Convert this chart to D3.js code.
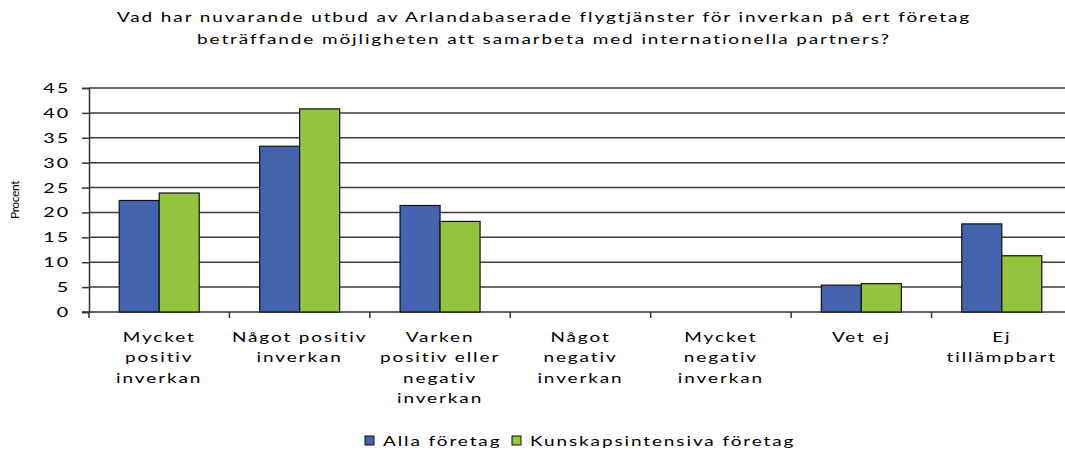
<!DOCTYPE html>
<html>
<head>
<meta charset="utf-8">
<script src="https://cdn.jsdelivr.net/npm/d3@7"></script>
<style>
body { margin: 0; background: #fff; }
svg text { font-family: Lato, "Open Sans", sans-serif; fill: #000; }
</style>
</head>
<body>
<script>
var categories = [
  ["Mycket", "positiv", "inverkan"],
  ["Något positiv", "inverkan"],
  ["Varken", "positiv eller", "negativ", "inverkan"],
  ["Något", "negativ", "inverkan"],
  ["Mycket", "negativ", "inverkan"],
  ["Vet ej"],
  ["Ej", "tillämpbart"]
];
var seriesNames = ["Alla företag", "Kunskapsintensiva företag"];
var alla = [22.4, 33.3, 21.4, 0, 0, 5.4, 17.7];
var kunskap = [23.9, 40.8, 18.2, 0, 0, 5.7, 11.3];
var yTicks = [0, 5, 10, 15, 20, 25, 30, 35, 40, 45];
var titleLines = [
  "Vad har nuvarande utbud av Arlandabaserade flygtjänster för inverkan på ert företag",
  "beträffande möjligheten att samarbeta med internationella partners?"
];
var colors = ["#4363ae", "#94c33d"];

var W = 1065, H = 452;
var mLeft = 89, mRight = 1072, mTop = 88, mBottom = 312;
var stretch = 1.46;   // the reference text is drawn wide
var fs = 13, ls = 1.3;

var svg = d3.select("body").append("svg").attr("width", W).attr("height", H);

var x = d3.scaleBand().domain(d3.range(categories.length)).range([mLeft, mRight]);
var xs = d3.scaleBand().domain([0, 1]).range([0, 80]);
var y = d3.scaleLinear().domain([0, 45]).range([mBottom, mTop]);

function wide(x0, y0) { return "translate(" + x0 + "," + y0 + ") scale(" + stretch + ",1)"; }

// title
svg.append("g").selectAll("text")
    .data(titleLines)
    .enter().append("text")
    .attr("transform", function(d, i) { return wide(544, 22 + i * 22); })
    .attr("text-anchor", "middle")
    .attr("font-size", fs)
    .attr("letter-spacing", ls)
    .text(function(d) { return d; });

// gridlines
svg.append("g").selectAll("line")
    .data(yTicks.slice(1))
    .enter().append("line")
    .attr("x1", mLeft).attr("x2", mRight)
    .attr("y1", function(d) { return y(d); })
    .attr("y2", function(d) { return y(d); })
    .attr("stroke", "#3a3a3a")
    .attr("stroke-width", 1.5);

// y axis
var yAxis = svg.append("g")
    .attr("transform", "translate(" + mLeft + ",0)")
    .call(d3.axisLeft(y).tickValues(yTicks).tickSize(7).tickFormat(""));
yAxis.select(".domain").attr("stroke", "#333").attr("stroke-width", 1.5);
yAxis.selectAll(".tick line").attr("stroke", "#333").attr("stroke-width", 1.5);
svg.append("g").selectAll("text")
    .data(yTicks)
    .enter().append("text")
    .attr("transform", function(d) { return wide(mLeft - 19, y(d) + 5); })
    .attr("text-anchor", "end")
    .attr("font-size", fs + 0.5)
    .attr("letter-spacing", ls)
    .text(function(d) { return d; });

// x axis
var xAxis = svg.append("g")
    .attr("transform", "translate(0," + mBottom + ")");
xAxis.append("line")
    .attr("x1", mLeft - 7).attr("x2", mRight)
    .attr("y1", 0).attr("y2", 0)
    .attr("stroke", "#333").attr("stroke-width", 1.5);
xAxis.selectAll("line.tk")
    .data(d3.range(categories.length))
    .enter().append("line")
    .attr("class", "tk")
    .attr("x1", function(d) { return x(d); })
    .attr("x2", function(d) { return x(d); })
    .attr("y1", 0).attr("y2", 6)
    .attr("stroke", "#333").attr("stroke-width", 1.5);

// category labels
var catLabels = svg.append("g").selectAll("text")
    .data(categories)
    .enter().append("text")
    .attr("transform", function(d, i) { return wide(x(i) + x.bandwidth() / 2, 342); })
    .attr("text-anchor", "middle")
    .attr("font-size", fs)
    .attr("letter-spacing", ls);
catLabels.selectAll("tspan")
    .data(function(d) { return d; })
    .enter().append("tspan")
    .attr("x", 0)
    .attr("y", function(d, j) { return j * 20.3; })
    .text(function(d) { return d; });

// bars (zero values are not drawn)
var series = [alla, kunskap];
series.forEach(function(vals, s) {
  var pts = vals.map(function(v, i) { return {v: v, i: i}; })
      .filter(function(d) { return d.v > 0; });
  svg.append("g").selectAll("rect")
      .data(pts)
      .enter().append("rect")
      .attr("x", function(d) { return x(d.i) + (x.bandwidth() - 80) / 2 + xs(s); })
      .attr("y", function(d) { return y(d.v); })
      .attr("width", xs.bandwidth())
      .attr("height", function(d) { return mBottom - y(d.v); })
      .attr("fill", colors[s])
      .attr("stroke", "#111")
      .attr("stroke-width", 1.2);
});

// y label
svg.append("text")
    .attr("transform", "translate(19,200) rotate(-90)")
    .attr("text-anchor", "middle")
    .attr("font-size", 12)
    .attr("letter-spacing", -0.4)
    .text("Procent");

// legend
var legendX = [365, 512];
var leg = svg.append("g").selectAll("g")
    .data(seriesNames)
    .enter().append("g")
    .attr("transform", function(d, i) { return "translate(" + legendX[i] + ",436)"; });
leg.append("rect")
    .attr("width", 9).attr("height", 9)
    .attr("fill", function(d, i) { return colors[i]; })
    .attr("stroke", "#111").attr("stroke-width", 1);
leg.append("text")
    .attr("transform", wide(18, 10))
    .attr("font-size", fs)
    .attr("letter-spacing", ls)
    .text(function(d) { return d; });
</script>
</body>
</html>
